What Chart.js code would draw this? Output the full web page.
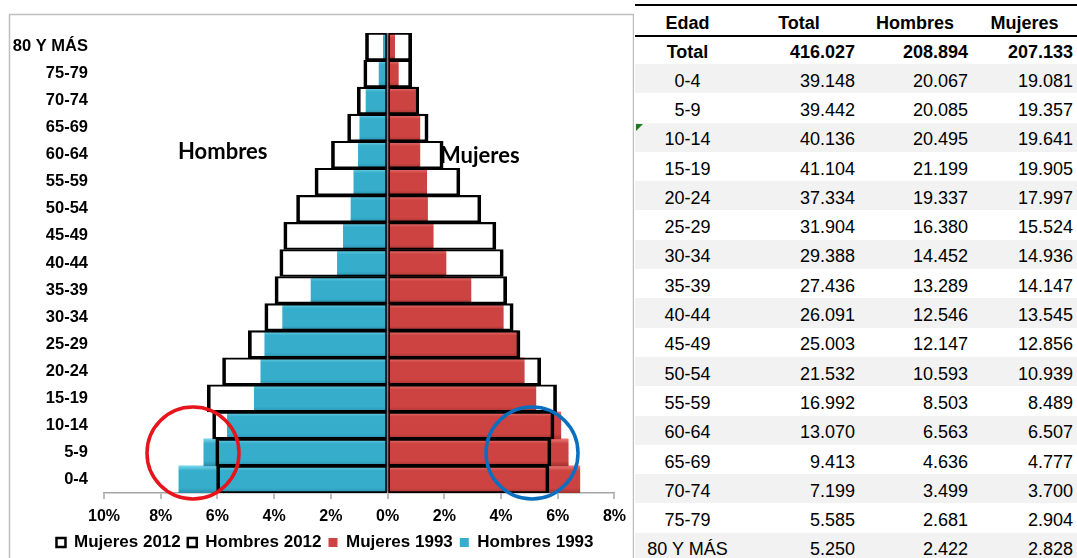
<!DOCTYPE html>
<html>
<head>
<meta charset="utf-8">
<script src="https://cdn.jsdelivr.net/npm/chart.js@4/dist/chart.umd.min.js"></script>
<style>
  html, body { margin: 0; padding: 0; background: #fff; }
  body { width: 1077px; height: 558px; position: relative; overflow: hidden; }
  .chart-wrapper { position: absolute; left: 0; top: 0; width: 634px; height: 558px; }
  #tabla {
    position: absolute; left: 635px; top: 4px; width: 442px;
    border-collapse: collapse; table-layout: fixed;
    font-family: "Liberation Sans", Arial, sans-serif; font-size: 18px; color: #000;
  }
  #tabla th { font-weight: bold; text-align: center; height: 31px; padding: 5px 0 0 0;
    vertical-align: middle; box-sizing: border-box;
    border-top: 2px solid #000; border-bottom: 2px solid #000; }
  #tabla td { height: 29.3px; padding: 5px 0 0 0; box-sizing: border-box; text-align: right; }
  #tabla td.edad { text-align: center; }
  #tabla td.c1 { padding-right: 3px; }
  #tabla td.c2 { padding-right: 4px; }
  #tabla td.c3 { padding-right: 4px; }
  #tabla tr.total td { font-weight: bold; height: 28px; padding-top: 3px; }
  #tabla tr.gris td { background: #f2f2f2; }
  .marca { position: absolute; left: 636px; top: 124px; width: 0; height: 0;
    border-top: 7px solid #1f7a1f; border-right: 7px solid transparent; }
</style>
</head>
<body>
<div class="chart-wrapper"><canvas id="piramide"></canvas></div>
<table id="tabla">
  <colgroup><col style="width:105px"><col style="width:118px"><col style="width:114px"><col style="width:105px"></colgroup>
  <thead><tr><th>Edad</th><th>Total</th><th>Hombres</th><th>Mujeres</th></tr></thead>
  <tbody></tbody>
</table>
<div class="marca"></div>
<script>
// grupos de edad (de abajo hacia arriba)
const edades = ["0-4", "5-9", "10-14", "15-19", "20-24", "25-29", "30-34", "35-39", "40-44",
    "45-49", "50-54", "55-59", "60-64", "65-69", "70-74", "75-79", "80 Y MÁS"];

const hombres2012 = [6.03, 6.06, 6.17, 6.36, 5.82, 4.91, 4.33, 3.97, 3.80, 3.66, 3.21, 2.56, 1.98, 1.41, 1.07, 0.84, 0.78];
const mujeres2012 = [5.69, 5.76, 5.87, 5.96, 5.40, 4.67, 4.43, 4.20, 4.08, 3.82, 3.29, 2.55, 1.96, 1.43, 1.10, 0.85, 0.85];
const hombres1993 = [7.36, 6.48, 5.65, 4.70, 4.47, 4.33, 3.70, 2.70, 1.77, 1.56, 1.29, 1.19, 1.03, 0.98, 0.76, 0.30, 0.15];
const mujeres1993 = [6.78, 6.37, 6.11, 5.23, 4.82, 4.59, 4.08, 2.94, 2.06, 1.61, 1.41, 1.38, 1.14, 1.14, 0.96, 0.38, 0.25];

const xTicks = [-10, -8, -6, -4, -2, 0, 2, 4, 6, 8];

// tabla de la derecha
const tablaTotal = { edad: "Total", total: 416027, hombres: 208894, mujeres: 207133 };
const tablaEdades = ["0-4", "5-9", "10-14", "15-19", "20-24", "25-29", "30-34", "35-39", "40-44",
    "45-49", "50-54", "55-59", "60-64", "65-69", "70-74", "75-79", "80 Y MÁS"];
const tablaTotales = [39148, 39442, 40136, 41104, 37334, 31904, 29388, 27436, 26091, 25003, 21532, 16992, 13070, 9413, 7199, 5585, 5250];
const tablaHombres = [20067, 20085, 20495, 21199, 19337, 16380, 14452, 13289, 12546, 12147, 10593, 8503, 6563, 4636, 3499, 2681, 2422];
const tablaMujeres = [19081, 19357, 19641, 19905, 17997, 15524, 14936, 14147, 13545, 12856, 10939, 8489, 6507, 4777, 3700, 2904, 2828];

const AZUL = "#35adcb";
const ROJO = "#cc4341";

const miles = (n) => String(n).replace(/\B(?=(\d{3})+(?!\d))/g, ".");

const buildTable = () => {
    const tbody = document.querySelector("#tabla tbody");
    const addRow = (cls, edad, t, h, m) => {
        const tr = document.createElement("tr");
        if (cls) tr.className = cls;
        tr.innerHTML = `<td class="edad">${edad}</td><td class="c1">${miles(t)}</td><td class="c2">${miles(h)}</td><td class="c3">${miles(m)}</td>`;
        tbody.appendChild(tr);
    };
    addRow("total", tablaTotal.edad, tablaTotal.total, tablaTotal.hombres, tablaTotal.mujeres);
    tablaEdades.forEach((e, i) => {
        addRow(i % 2 === 0 ? "gris" : "", e, tablaTotales[i], tablaHombres[i], tablaMujeres[i]);
    });
}

const bevel = (base, light, dark) => (ctx) => {
    const chart = ctx.chart;
    if (!chart.chartArea || !chart.scales.y || ctx.type !== "data") return base;
    const y = chart.scales.y.getPixelForValue(ctx.dataIndex);
    const h = chart.scales.y.height / edades.length;
    const g = chart.ctx.createLinearGradient(0, y - h / 2, 0, y + h / 2);
    g.addColorStop(0, light);
    g.addColorStop(0.18, base);
    g.addColorStop(0.82, base);
    g.addColorStop(1, dark);
    return g;
}

const extras = {
    id: "extras",
    afterLayout(chart) {
        // la leyenda del original esta algo desplazada a la derecha
        chart.legend.left += 13;
        chart.legend.right += 13;
    },
    beforeDraw(chart) {
        const c = chart.ctx;
        c.save();
        c.strokeStyle = "#bfbfbf";
        c.lineWidth = 1.5;
        c.strokeRect(9.5, 14.5, 624, 600);
        c.restore();
    },
    afterDatasetsDraw(chart) {
        const c = chart.ctx;
        c.save();
        c.fillStyle = "#000";
        c.font = "bold 22px Lato";
        c.textBaseline = "middle";
        c.fillText("Hombres", 178, 152);
        c.fillText("Mujeres", 440, 156);
        c.lineWidth = 3.5;
        c.strokeStyle = "#e8141b";
        c.beginPath();
        c.arc(193, 453, 46, 0, Math.PI * 2);
        c.stroke();
        c.strokeStyle = "#0b6fc0";
        c.beginPath();
        c.arc(532, 453, 46, 0, Math.PI * 2);
        c.stroke();
        c.restore();
    }
};

// el lado del cero lleva un borde mas fino
const bordeMujeres = { top: 1.5, bottom: 1.5, left: 1, right: 3 };
const bordeHombres = { top: 1.5, bottom: 1.5, left: 3, right: 1 };

const buildPyramid = () => {
    const canvas = document.getElementById("piramide");
    new Chart(canvas.getContext("2d"), {
        type: "bar",
        data: {
            labels: edades,
            datasets: [
                { label: "Mujeres 2012", data: mujeres2012, backgroundColor: "rgba(0,0,0,0)",
                  borderColor: "#000", borderWidth: bordeMujeres, borderSkipped: false },
                { label: "Hombres 2012", data: hombres2012.map(v => -v), backgroundColor: "rgba(0,0,0,0)",
                  borderColor: "#000", borderWidth: bordeHombres, borderSkipped: false },
                { label: "Mujeres 1993", data: mujeres1993, backgroundColor: bevel(ROJO, "#ec7874", "#a53331"),
                  borderWidth: 0 },
                { label: "Hombres 1993", data: hombres1993.map(v => -v), backgroundColor: bevel(AZUL, "#74d4ea", "#2a8ca8"),
                  borderWidth: 0 }
            ]
        },
        options: {
            indexAxis: "y",
            responsive: true,
            maintainAspectRatio: false,
            animation: false,
            grouped: false,
            barPercentage: 1,
            categoryPercentage: 1,
            layout: { padding: { left: 9, right: 19, top: 33, bottom: -3 } },
            scales: {
                x: {
                    min: -10, max: 8,
                    afterBuildTicks: (s) => { s.ticks = xTicks.map(v => ({ value: v })); },
                    afterFit: (s) => { s.height = 34; },
                    grid: {
                        color: (ctx) => ctx.tick && ctx.tick.value === 0 ? "#7f7f7f" : "rgba(0,0,0,0)",
                        lineWidth: 2,
                        tickColor: "#a6a6a6",
                        tickLength: 6,
                        tickWidth: 1.5
                    },
                    border: { display: true, color: "#a6a6a6", width: 1.5 },
                    ticks: {
                        color: "#000",
                        padding: 8,
                        font: { family: "Liberation Sans", size: 16, weight: "bold" },
                        callback: (v) => Math.abs(v) + "%"
                    }
                },
                y: {
                    reverse: true,
                    afterFit: (s) => { s.width = 95; },
                    grid: { display: false },
                    border: { display: false },
                    ticks: {
                        color: "#000",
                        padding: 8,
                        font: { family: "Liberation Sans", size: 16.5, weight: "bold" }
                    }
                }
            },
            plugins: {
                tooltip: { enabled: false },
                legend: {
                    position: "bottom",
                    labels: {
                        boxWidth: 9,
                        boxHeight: 9,
                        padding: 7,
                        color: "#000",
                        font: { family: "Liberation Sans", size: 17, weight: "bold", lineHeight: 0.85 },
                        generateLabels: (chart) => {
                            const fills = ["#fff", "#fff", ROJO, AZUL];
                            return chart.data.datasets.map((ds, i) => ({
                                text: ds.label,
                                fillStyle: fills[i],
                                strokeStyle: i < 2 ? "#000" : fills[i],
                                lineWidth: i < 2 ? 2.5 : 0,
                                fontColor: "#000",
                                hidden: false,
                                datasetIndex: i
                            }));
                        }
                    }
                }
            }
        },
        plugins: [extras]
    });
}

buildTable();
buildPyramid();
</script>
</body>
</html>
